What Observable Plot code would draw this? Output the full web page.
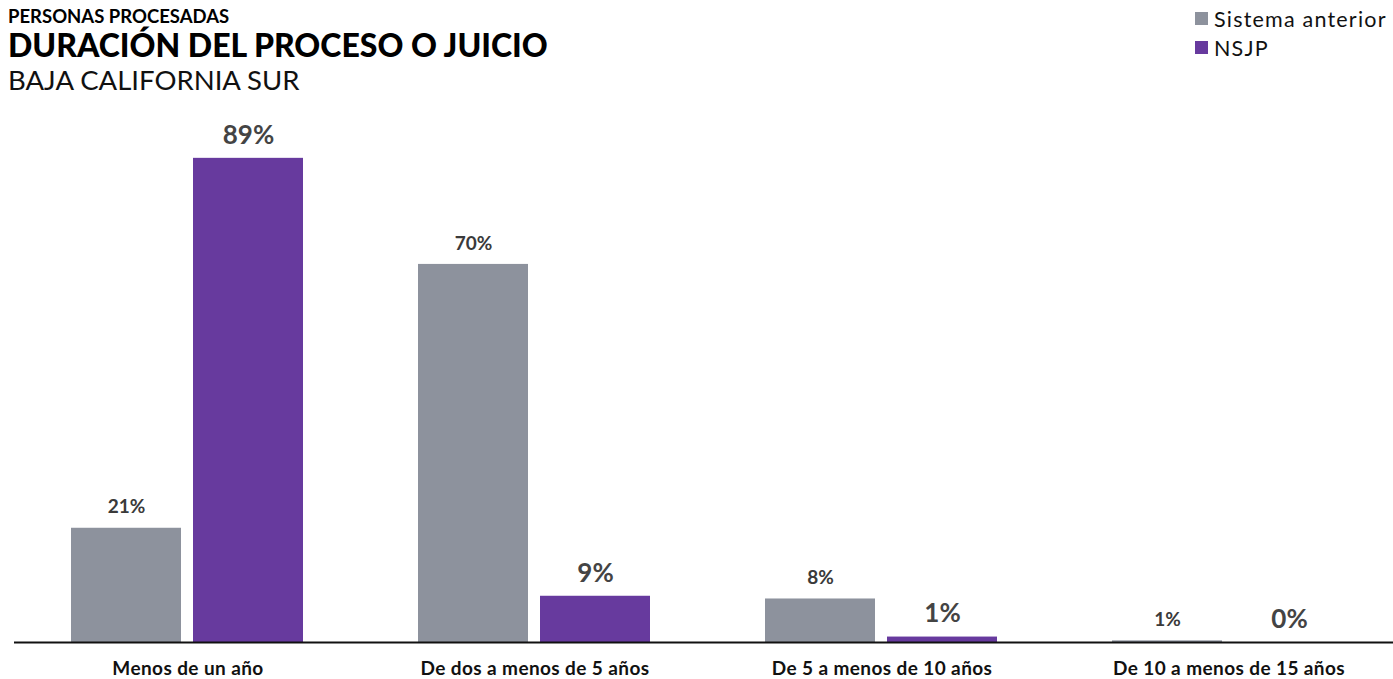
<!DOCTYPE html>
<html>
<head>
<meta charset="utf-8">
<script src="https://cdn.jsdelivr.net/npm/d3@7"></script>
<script src="https://cdn.jsdelivr.net/npm/@observablehq/plot@0.6"></script>
<style>
  body { margin: 0; background: #fff; font-family: Lato, "Noto Sans", sans-serif; }
  #wrap { position: relative; width: 1393px; height: 679px; overflow: hidden; }
  #head { position: absolute; left: 8px; top: 5px; color: #000; }
  #kicker { font-weight: 700; font-size: 18.5px; line-height: 22px; }
  #title { font-weight: 900; font-size: 32px; line-height: 36px; }
  #sub { font-weight: 400; font-size: 27.5px; line-height: 34px; color: #111; }
  #legend { position: absolute; left: 1195px; top: 4px; font-size: 21.5px; color: #111; letter-spacing: 1.2px; }
  .li { display: flex; align-items: center; height: 29px; }
  .sw { width: 13px; height: 13px; margin-right: 6px; }
  #chart { position: absolute; left: 0; top: 0; }
</style>
</head>
<body>
<div id="wrap">
  <div id="chart"></div>
  <div id="head">
    <div id="kicker">PERSONAS PROCESADAS</div>
    <div id="title">DURACIÓN DEL PROCESO O JUICIO</div>
    <div id="sub">BAJA CALIFORNIA SUR</div>
  </div>
  <div id="legend"></div>
</div>
<script>
const categories = ["Menos de un año", "De dos a menos de 5 años", "De 5 a menos de 10 años", "De 10 a menos de 15 años"];
const seriesNames = ["Sistema anterior", "NSJP"];
const colors = ["#8d929d", "#673a9e"];
const sistemaAnterior = [21, 69.5, 8, 0.3];
const nsjp = [89, 8.5, 1, 0];
const sistemaLabels = ["21%", "70%", "8%", "1%"];
const nsjpLabels = ["89%", "9%", "1%", "0%"];

const data = [];
categories.forEach((c, i) => {
  data.push({cat: c, series: seriesNames[0], value: sistemaAnterior[i], label: sistemaLabels[i]});
  data.push({cat: c, series: seriesNames[1], value: nsjp[i], label: nsjpLabels[i]});
});

const chart = Plot.plot({
  width: 1393,
  height: 679,
  marginTop: 98,
  marginBottom: 37,
  marginLeft: 10,
  marginRight: 10,
  style: {fontFamily: "Lato, 'Noto Sans', sans-serif", background: "transparent"},
  fx: {domain: categories, range: [13.5, 1401.5], padding: 0, label: null, axis: "bottom", tickSize: 0, tickPadding: 19},
  x: {domain: seriesNames, range: [66.5, 298.5], paddingInner: 0.1, paddingOuter: 0, axis: null},
  y: {domain: [0, 100], axis: null},
  color: {domain: seriesNames, range: colors},
  marks: [
    Plot.barY(data, {fx: "cat", x: "series", y: "value", fill: "series"}),
    Plot.text(data.filter(d => d.series === seriesNames[0]), {fx: "cat", x: "series", y: "value", text: "label", dy: -21, fontSize: 19, fontWeight: 700, fill: "#3a3a3a"}),
    Plot.text(data.filter(d => d.series === seriesNames[1]), {fx: "cat", x: "series", y: "value", text: "label", dy: -23, fontSize: 26, fontWeight: 700, fill: "#444"}),
    Plot.ruleY([0], {stroke: "#111", strokeWidth: 2})
  ]
});

d3.select(chart).selectAll("g[aria-label='fx-axis tick label']")
  .attr("font-size", 19).attr("font-weight", 700).attr("fill", "#111")
  .style("letter-spacing", "0.4px");

document.getElementById("chart").appendChild(chart);

const legend = d3.select("#legend");
seriesNames.forEach((s, i) => {
  const row = legend.append("div").attr("class", "li");
  row.append("div").attr("class", "sw").style("background", colors[i]);
  row.append("span").text(s);
});
</script>
</body>
</html>
